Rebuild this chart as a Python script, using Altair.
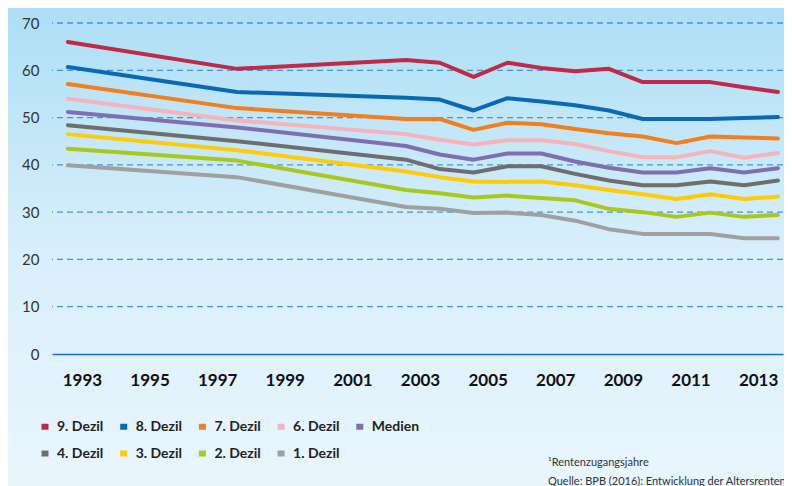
import altair as alt
import pandas as pd

years = [1993, 1998, 2003, 2004, 2005, 2006, 2007, 2008, 2009, 2010, 2011, 2012, 2013, 2014]
series_names = ["9. Dezil", "8. Dezil", "7. Dezil", "6. Dezil", "Medien",
                "4. Dezil", "3. Dezil", "2. Dezil", "1. Dezil"]
colors = ["#be2a48", "#0a69b4", "#f07f1f", "#f6b3b9", "#7f6fb2",
          "#6e6e6e", "#ffcb05", "#a8c81d", "#a0a0a0"]

d9 = [66.0, 60.3, 62.2, 61.6, 58.6, 61.6, 60.5, 59.8, 60.3, 57.5, 57.5, 57.5, 56.4, 55.4]
d8 = [60.7, 55.4, 54.2, 53.8, 51.5, 54.1, 53.4, 52.6, 51.5, 49.7, 49.7, 49.7, 49.9, 50.1]
d7 = [57.1, 52.0, 49.7, 49.7, 47.4, 48.9, 48.6, 47.6, 46.7, 46.0, 44.6, 46.0, 45.8, 45.6]
d6 = [54.0, 49.4, 46.5, 45.3, 44.3, 45.2, 45.2, 44.4, 42.9, 41.6, 41.6, 42.9, 41.5, 42.5]
med = [51.2, 47.9, 44.0, 42.2, 41.1, 42.4, 42.4, 40.7, 39.4, 38.4, 38.4, 39.3, 38.4, 39.3]
d4 = [48.4, 45.0, 41.1, 39.1, 38.4, 39.7, 39.7, 38.1, 36.7, 35.7, 35.7, 36.5, 35.7, 36.7]
d3 = [46.5, 43.1, 38.6, 37.4, 36.5, 36.4, 36.5, 35.7, 34.7, 33.8, 32.8, 33.8, 32.8, 33.3]
d2 = [43.4, 40.9, 34.7, 34.0, 33.1, 33.5, 33.0, 32.5, 30.7, 30.0, 29.0, 29.9, 29.0, 29.4]
d1 = [39.9, 37.4, 31.1, 30.7, 29.8, 29.9, 29.4, 28.2, 26.4, 25.4, 25.4, 25.4, 24.5, 24.5]

y_ticks = [0, 10, 20, 30, 40, 50, 60, 70]
x_ticks = [1993, 1995, 1997, 1999, 2001, 2003, 2005, 2007, 2009, 2011, 2013]
grid_values = [10, 20, 30, 40, 50, 60, 70]
footnote = "¹Rentenzugangsjahre"
source = "Quelle: BPB (2016): Entwicklung der Altersrenten"

all_series = [d9, d8, d7, d6, med, d4, d3, d2, d1]
rows = []
for name, vals in zip(series_names, all_series):
    for yr, v in zip(years, vals):
        rows.append({"Jahr": yr, "Wert": v, "Serie": name})
df = pd.DataFrame(rows)

W, H = 731, 331

x_scale = alt.Scale(domain=[1992.53, 2014.15], nice=False, zero=False)
y_scale = alt.Scale(domain=[0, 70], nice=False)

y_axis = alt.Axis(values=y_ticks, title=None, grid=False, ticks=False,
                  tickSize=0, domain=False, labelFont="Lato",
                  labelFontSize=15, labelColor="#333",
                  labelPadding=13, zindex=1)

bg = alt.Chart(alt.Data(values=[{"a": 1}])).mark_rect(
    fill={"gradient": "linear", "x1": 0, "y1": 0, "x2": 0, "y2": 1,
          "stops": [{"offset": 0, "color": "#acdef5"},
                    {"offset": 0.5, "color": "#d9effb"},
                    {"offset": 1, "color": "#eaf6fe"}]},
    stroke=None,
).encode(
    x=alt.value(-50), x2=alt.value(W + 20),
    y=alt.value(-20), y2=alt.value(H + 150),
)

grid = alt.Chart(pd.DataFrame({"Wert": grid_values})).mark_rule(
    color="#4594d4", strokeWidth=1.3, strokeDash=[6, 4]
).encode(
    y=alt.Y("Wert:Q", scale=y_scale, axis=y_axis)
)

lines = alt.Chart(df).mark_line(
    strokeWidth=4, strokeCap="round", strokeJoin="round"
).encode(
    x=alt.X("Jahr:Q", scale=x_scale,
            axis=alt.Axis(values=x_ticks, format="d", title=None, grid=False,
                          ticks=False, tickSize=0, domain=True,
                          domainColor="#1a6fbe", domainWidth=1.5,
                          labelFont="Lato", labelFontWeight="bold",
                          labelFontSize=17, labelColor="#111",
                          labelPadding=18, labelOffset=14, zindex=1,
                          labelFlush=False, labelOverlap=False)),
    y=alt.Y("Wert:Q", scale=y_scale, axis=y_axis),
    color=alt.Color("Serie:N",
                    scale=alt.Scale(domain=series_names, range=colors),
                    legend=alt.Legend(
                        title=None, orient="none", legendX=-16.5, legendY=394,
                        columns=5, direction="horizontal",
                        symbolType="M0,-0.5L0,0.5", symbolSize=144,
                        symbolStrokeWidth=7, labelFont="Lato",
                        labelFontWeight="bold", labelFontSize=14,
                        labelColor="#222", labelOffset=2.5,
                        columnPadding=4.7, rowPadding=-8, gridAlign="all",
                        padding=0, zindex=1)),
    order=alt.Order("Jahr:Q"),
)

note1 = alt.Chart(alt.Data(values=[{"t": footnote}])).mark_text(
    align="left", baseline="middle", font="Lato", fontSize=11, color="#333"
).encode(text="t:N", x=alt.value(496), y=alt.value(440))
note2 = alt.Chart(alt.Data(values=[{"t": source}])).mark_text(
    align="left", baseline="middle", font="Lato", fontSize=11, color="#333"
).encode(text="t:N", x=alt.value(496), y=alt.value(459))

chart = alt.layer(bg, grid, lines, note1, note2).properties(
    width=W, height=H,
    autosize=alt.AutoSizeParams(type="none"),
    padding={"left": 44, "top": 15, "right": 1, "bottom": 132},
    background="#eaf6fe",
).configure_view(stroke=None)

chart.save("out.html", embed_options={"renderer": "svg", "actions": False})
